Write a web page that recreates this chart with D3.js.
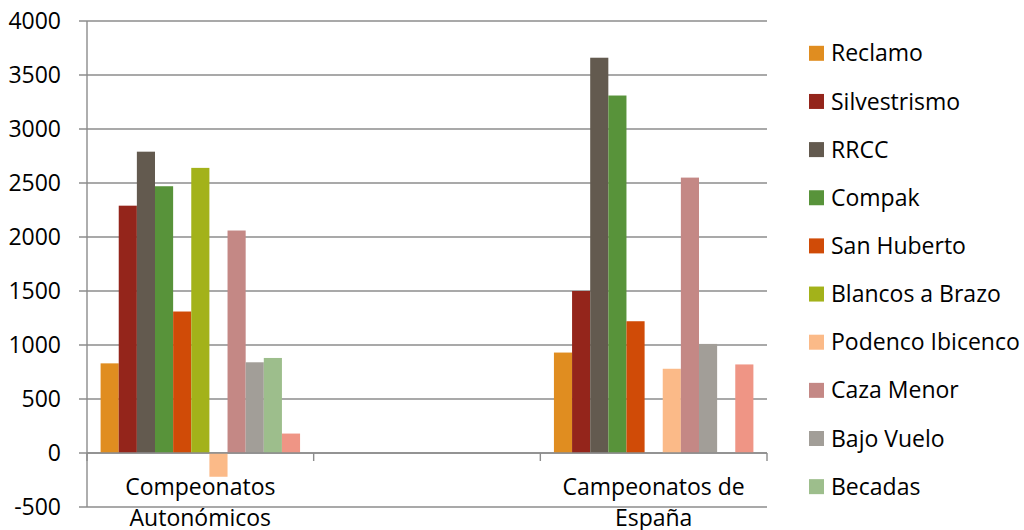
<!DOCTYPE html>
<html>
<head>
<meta charset="utf-8">
<script src="https://cdn.jsdelivr.net/npm/d3@7"></script>
<style>
	body { margin: 0; background: #fff; }
	svg text { font-family: "Open Sans", sans-serif; fill: #000; }
</style>
</head>
<body>
<div id="chart"></div>
<script>
// categories (the middle one is empty in the original chart)
const categories = ["Compeonatos Autonómicos", "", "Campeonatos de España"];
const categoryLines = [["Compeonatos", "Autonómicos"], [], ["Campeonatos de", "España"]];

const seriesNames = ["Reclamo", "Silvestrismo", "RRCC", "Compak", "San Huberto",
	"Blancos a Brazo", "Podenco Ibicenco", "Caza Menor", "Bajo Vuelo", "Becadas", "Otros"];
const seriesColors = ["#e08d20", "#94251b", "#635a4f", "#58933a", "#d04b07",
	"#a3b21a", "#fbba88", "#c48885", "#a29e98", "#9dbe8c", "#ef9585"];
// only the first ten fit in the legend of the original
const legendNames = seriesNames.slice(0, 10);

// one array per category, in series order
const autonomicos = [830, 2290, 2790, 2470, 1310, 2640, -220, 2060, 840, 880, 180];
const vacio = [null, null, null, null, null, null, null, null, null, null, null];
const espana = [930, 1500, 3660, 3310, 1220, null, 780, 2550, 1010, null, 820];
const values = [autonomicos, vacio, espana];

const yTicks = [-500, 0, 500, 1000, 1500, 2000, 2500, 3000, 3500, 4000];

const width = 1024, height = 530;
const plotLeft = 87, plotRight = 767, plotTop = 21, plotBottom = 507;
const gridColor = "#8c8c8c";
const fontSize = "23px";

const svg = d3.select("#chart").append("svg")
	.attr("width", width)
	.attr("height", height);

const y = d3.scaleLinear().domain([-500, 4000]).range([plotBottom, plotTop]);
const x0 = d3.scaleBand().domain(d3.range(categories.length)).range([plotLeft, plotRight]);
const bw = x0.bandwidth();
const barW = bw / (seriesNames.length + 1.5);
const gap = 1.5 * barW;
const x1 = d3.scaleBand().domain(seriesNames).range([gap / 2, bw - gap / 2]);

// gridlines + left ticks
svg.append("g").selectAll("line")
	.data(yTicks).enter()
	.append("line")
	.attr("x1", plotLeft - 8)
	.attr("x2", plotRight)
	.attr("y1", d => y(d))
	.attr("y2", d => y(d))
	.attr("stroke", gridColor)
	.attr("stroke-width", 1.4);

svg.append("g").selectAll("text")
	.data(yTicks).enter()
	.append("text")
	.attr("x", 61)
	.attr("y", d => y(d))
	.attr("dy", "0.35em")
	.attr("text-anchor", "end")
	.style("font-size", fontSize)
	.text(d => d);

// bars
const groups = svg.append("g").selectAll("g")
	.data(values).enter()
	.append("g")
	.attr("transform", (d, i) => "translate(" + x0(i) + ",0)");

groups.selectAll("rect")
	.data(d => d.map((v, i) => ({name: seriesNames[i], value: v, color: seriesColors[i]})).filter(e => e.value != null))
	.enter()
	.append("rect")
	.attr("x", d => x1(d.name))
	.attr("width", x1.bandwidth())
	.attr("y", d => y(Math.max(0, d.value)))
	.attr("height", d => Math.abs(y(d.value) - y(0)))
	.attr("fill", d => d.color);

// axes lines
svg.append("line")
	.attr("x1", plotLeft).attr("x2", plotLeft)
	.attr("y1", plotTop).attr("y2", plotBottom)
	.attr("stroke", gridColor).attr("stroke-width", 1.4);

svg.append("line")
	.attr("x1", plotLeft).attr("x2", plotRight)
	.attr("y1", y(0)).attr("y2", y(0))
	.attr("stroke", gridColor).attr("stroke-width", 1.4);

const catTicks = d3.range(categories.length + 1).map(i => plotLeft + i * bw);
svg.append("g").selectAll("line")
	.data(catTicks).enter()
	.append("line")
	.attr("x1", d => d).attr("x2", d => d)
	.attr("y1", y(0)).attr("y2", y(0) + 8)
	.attr("stroke", gridColor).attr("stroke-width", 1.4);

// category labels
const catLabels = svg.append("g").selectAll("text")
	.data(categoryLines).enter()
	.append("text")
	.attr("text-anchor", "middle")
	.attr("x", (d, i) => x0(i) + bw / 2)
	.attr("y", 495)
	.style("font-size", fontSize);
catLabels.selectAll("tspan")
	.data(d => d).enter()
	.append("tspan")
	.attr("x", function() { return d3.select(this.parentNode).attr("x"); })
	.attr("dy", (d, i) => i == 0 ? 0 : 31)
	.text(d => d);

// legend
const legend = svg.append("g").selectAll("g")
	.data(legendNames).enter()
	.append("g")
	.attr("transform", (d, i) => "translate(809," + (53.3 + i * 48.15) + ")");
legend.append("rect")
	.attr("x", 0).attr("y", -7.5)
	.attr("width", 15).attr("height", 15)
	.attr("fill", (d, i) => seriesColors[i]);
legend.append("text")
	.attr("x", 22)
	.attr("dy", "0.35em")
	.style("font-size", fontSize)
	.text(d => d);
</script>
</body>
</html>
